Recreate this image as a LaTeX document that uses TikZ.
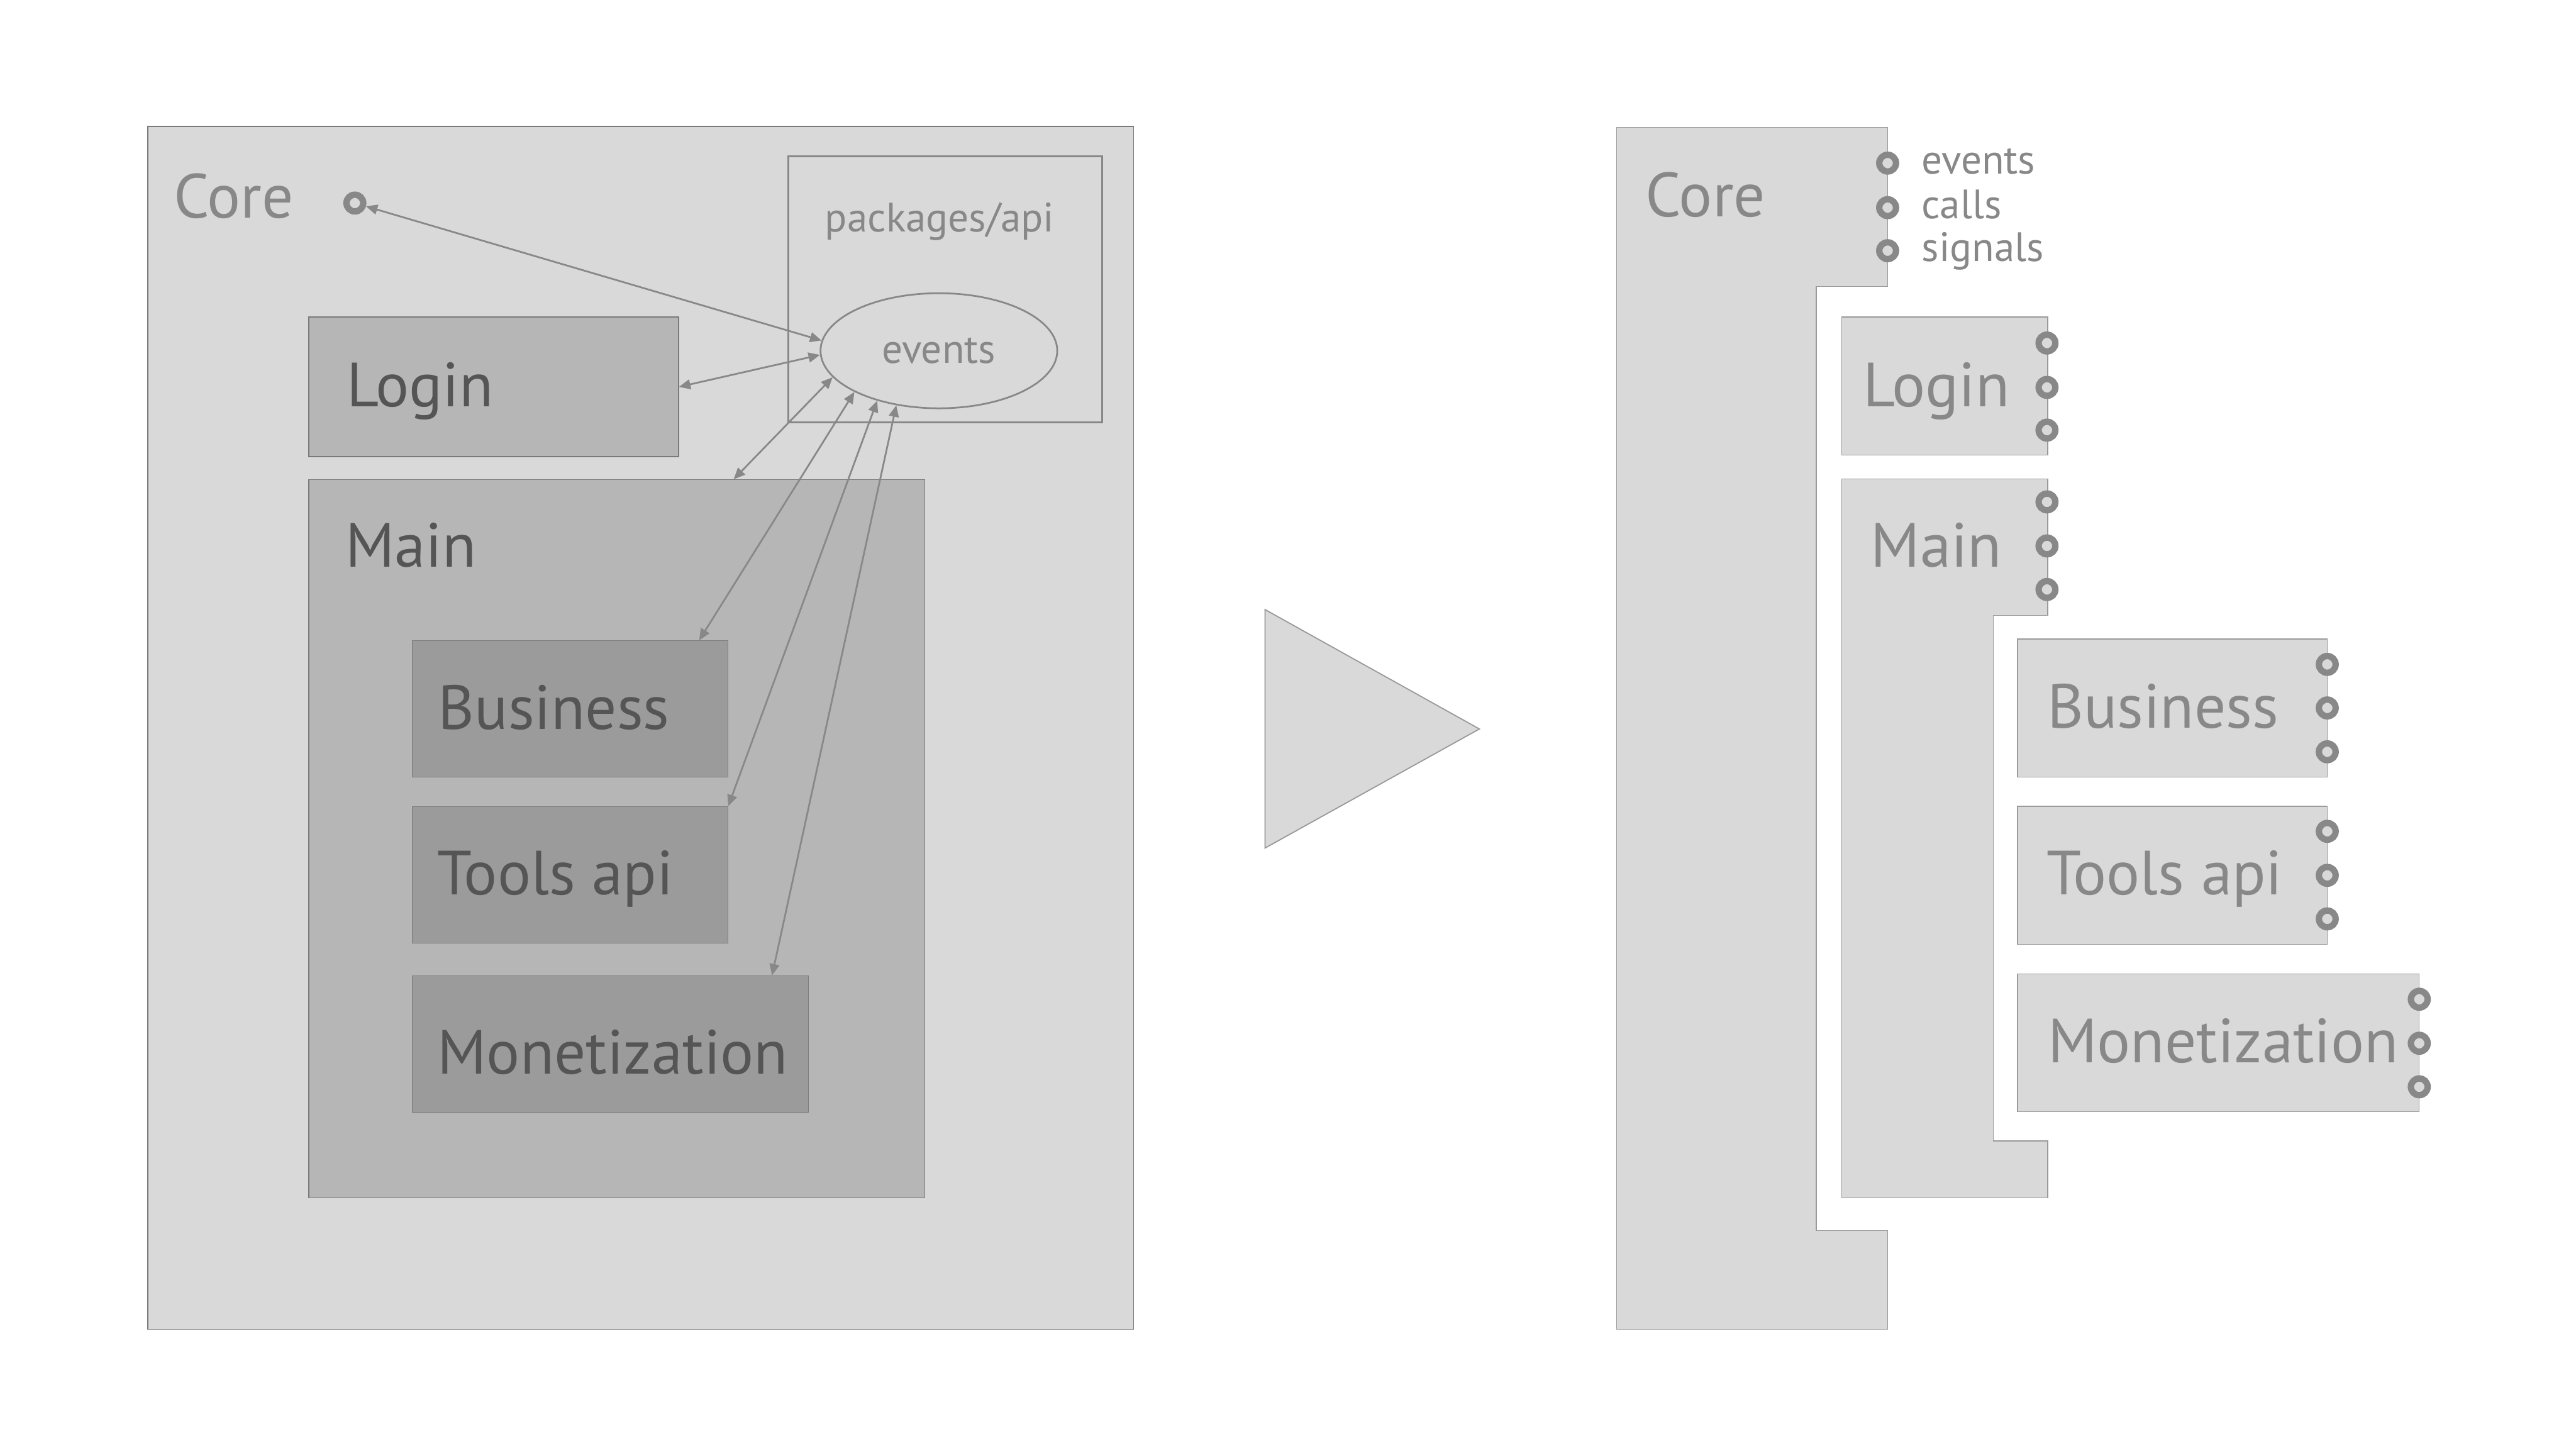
\documentclass[tikz,border=0pt]{standalone}
\usepackage{fontspec}
\setmainfont{PT Sans}
\usetikzlibrary{shapes.geometric,arrows.meta,fit}
\definecolor{pale}{HTML}{D9D9D9}
\definecolor{mid}{HTML}{B6B6B6}
\definecolor{deep}{HTML}{9B9B9B}
\definecolor{ink}{HTML}{888888}
\definecolor{darkink}{HTML}{555555}
\definecolor{edge}{HTML}{7A7A7A}
\definecolor{softedge}{HTML}{9A9A9A}
\begin{document}
\begin{tikzpicture}[x=0.01cm,y=-0.01cm]
  \tikzstyle{every node}+=[inner sep=0pt]
  \tikzstyle{box}=[draw=edge,line width=0.15pt]
  \tikzstyle{rbox}=[draw=softedge,line width=0.15pt,fill=pale]
  \tikzstyle{big}=[font=\fontsize{10.8}{12}\selectfont,anchor=base west]
  \tikzstyle{small}=[font=\fontsize{7.1}{8}\selectfont]
  \tikzstyle{port}=[circle,draw=ink,fill=pale,line width=1.1pt,minimum size=0.102cm]
  \tikzstyle{link}=[draw=ink,line width=0.3pt,{Triangle[length=0.7mm,width=0.6mm]}-{Triangle[length=0.7mm,width=0.6mm]}]
  \useasboundingbox (0,0) rectangle (1568,883);
  \node[box,fill=pale,fit={(90,77) (690,809)}] (core) {};
  \node[big,text=ink] (coretxt) at (105,132.5) {Core};
  \node[port] (coreport) at (216,123.6) {};
  \node[draw=ink,line width=0.35pt,fit={(480,95) (671,257)}] (api) {};
  \node[small,text=ink,anchor=base] (apitxt) at (572,141) {packages/api};
  \node[ellipse,draw=ink,line width=0.3pt,small,text=ink,minimum width=1.44cm,minimum height=0.70cm] (ev) at (571.5,213.5) {events};
  \node[box,fill=mid,fit={(188,193) (413,278)}] (login) {};
  \node[big,text=darkink] (logintxt) at (210.5,247.5) {Login};
  \node[box,fill=mid,fit={(188,292) (563,729)}] (main) {};
  \node[big,text=darkink] (maintxt) at (209.5,345) {Main};
  \node[box,fill=deep,fit={(251,390) (443,473)}] (business) {};
  \node[big,text=darkink] (businesstxt) at (266,444) {Business};
  \node[box,fill=deep,fit={(251,491) (443,574)}] (tools) {};
  \node[big,text=darkink] (toolstxt) at (265.5,544.7) {Tools api};
  \node[box,fill=deep,fit={(251,594) (492,677)}] (monet) {};
  \node[big,text=darkink] (monettxt) at (265.5,653.5) {Monetization};
  \draw[link] (coreport) -- (ev.175);
  \draw[link] (login.east) -- (ev.182);
  \draw[link] (main.72) -- (ev.194);
  \draw[link] (business.28) -- (ev.206);
  \draw[link] (tools.north east) -- (ev.219);
  \draw[link] (monet.23) -- (ev.232);
  \draw[fill=pale,draw=softedge,line width=0.2pt] (770,371) -- (900.5,443.7) -- (770,516.2) -- cycle;
  \draw[rbox] (984,77.6) -- (1149,77.6) -- (1149,174.5) -- (1105.5,174.5) -- (1105.5,749) -- (1149,749) -- (1149,809) -- (984,809) -- cycle;
  \node[big,text=ink] (rcoretxt) at (1001,132) {Core};
  \node[port] (rcore1) at (1149,99.3) {};
  \node[port] (rcore2) at (1149,126.4) {};
  \node[port] (rcore3) at (1149,152.6) {};
  \node[small,text=ink,anchor=base west] (evtxt) at (1169,106) {events};
  \node[small,text=ink,anchor=base west] (callstxt) at (1169,133) {calls};
  \node[small,text=ink,anchor=base west] (sigtxt) at (1169,159) {signals};
  \node[rbox,fit={(1121,193) (1246.5,277)}] (rlogin) {};
  \node[big,text=ink] (rlogintxt) at (1133.5,247.5) {Login};
  \node[port] (rlogin1) at (1246,208.8) {};
  \node[port] (rlogin2) at (1246,235.8) {};
  \node[port] (rlogin3) at (1246,261.8) {};
  \draw[rbox] (1121,291.5) -- (1246.5,291.5) -- (1246.5,374.6) -- (1213.3,374.6) -- (1213.3,694.4) -- (1246.5,694.4) -- (1246.5,729) -- (1121,729) -- cycle;
  \node[big,text=ink] (rmaintxt) at (1138,345) {Main};
  \node[port] (rmain1) at (1246,305.5) {};
  \node[port] (rmain2) at (1246,332.3) {};
  \node[port] (rmain3) at (1246,358.8) {};
  \node[rbox,fit={(1228,389) (1416.6,473)}] (rbusiness) {};
  \node[big,text=ink] (rbusinesstxt) at (1245.4,443) {Business};
  \node[port] (rbusiness1) at (1416.6,404.4) {};
  \node[port] (rbusiness2) at (1416.6,430.9) {};
  \node[port] (rbusiness3) at (1416.6,457.6) {};
  \node[rbox,fit={(1228,490.8) (1416.6,574.8)}] (rtools) {};
  \node[big,text=ink] (rtoolstxt) at (1245,544.7) {Tools api};
  \node[port] (rtools1) at (1416.6,506) {};
  \node[port] (rtools2) at (1416.6,532.8) {};
  \node[port] (rtools3) at (1416.6,559.3) {};
  \node[rbox,fit={(1228,592.8) (1472.6,676.7)}] (rmonet) {};
  \node[big,text=ink] (rmonettxt) at (1245.8,646.6) {Monetization};
  \node[port] (rmonet1) at (1472.6,608.2) {};
  \node[port] (rmonet2) at (1472.6,635) {};
  \node[port] (rmonet3) at (1472.6,661.5) {};
\end{tikzpicture}
\end{document}
